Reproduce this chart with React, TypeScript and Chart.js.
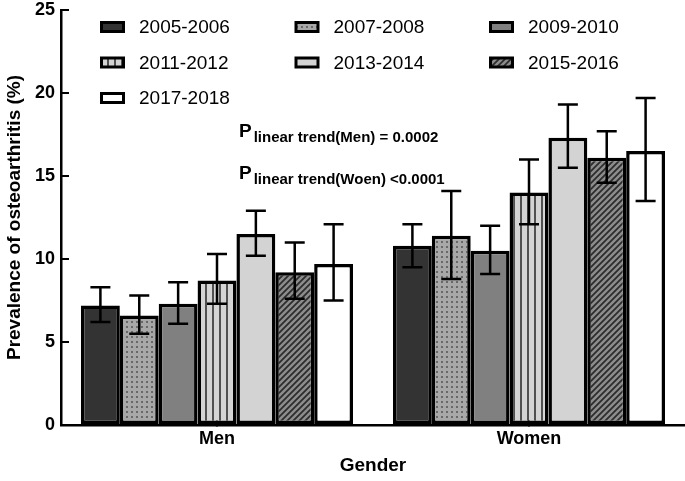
import React, { useEffect, useRef } from 'react';
import { Chart, registerables } from 'chart.js';

Chart.register(...registerables);

const FONT = "'Liberation Sans', Arial, Helvetica, sans-serif";

// ---- data ----
const categories = ['Men', 'Women'];
const periods = ['2005-2006', '2007-2008', '2009-2010', '2011-2012', '2013-2014', '2015-2016', '2017-2018'];

const prev2005 = [7.2, 10.8];
const prev2007 = [6.6, 11.4];
const prev2009 = [7.3, 10.5];
const prev2011 = [8.7, 14.0];
const prev2013 = [11.5, 17.3];
const prev2015 = [9.2, 16.1];
const prev2017 = [9.7, 16.5];

const low2005 = [6.2, 9.5];
const low2007 = [5.5, 8.8];
const low2009 = [6.1, 9.1];
const low2011 = [7.3, 12.1];
const low2013 = [10.2, 15.5];
const low2015 = [7.6, 14.6];
const low2017 = [7.5, 13.5];

const high2005 = [8.3, 12.1];
const high2007 = [7.8, 14.1];
const high2009 = [8.6, 12.0];
const high2011 = [10.3, 16.0];
const high2013 = [12.9, 19.3];
const high2015 = [11.0, 17.7];
const high2017 = [12.1, 19.7];

const yTicks = [0, 5, 10, 15, 20, 25];

const values = [prev2005, prev2007, prev2009, prev2011, prev2013, prev2015, prev2017];
const lows = [low2005, low2007, low2009, low2011, low2013, low2015, low2017];
const highs = [high2005, high2007, high2009, high2011, high2013, high2015, high2017];

const trendLines = [
  { sub: 'linear trend(Men) = 0.0002' },
  { sub: 'linear trend(Woen) <0.0001' },
];

// ---- fills ----
function tile(w: number, h: number, draw: (c: CanvasRenderingContext2D) => void): CanvasPattern | string {
  const cv = document.createElement('canvas');
  cv.width = w;
  cv.height = h;
  const c = cv.getContext('2d')!;
  draw(c);
  const p = c.createPattern(cv, 'repeat');
  return p || '#999';
}

function makeFills(): (CanvasPattern | string)[] {
  const dots = tile(5, 5, (c) => {
    c.fillStyle = '#a8a8a8';
    c.fillRect(0, 0, 5, 5);
    c.fillStyle = '#686868';
    c.fillRect(1, 1, 2, 2);
  });
  const vlines = tile(7, 7, (c) => {
    c.fillStyle = '#d4d4d4';
    c.fillRect(0, 0, 7, 7);
    c.fillStyle = '#505050';
    c.fillRect(2, 0, 2, 7);
  });
  const hatch = tile(6, 6, (c) => {
    c.fillStyle = '#8c8c8c';
    c.fillRect(0, 0, 6, 6);
    c.strokeStyle = '#2b2b2b';
    c.lineWidth = 1.7;
    c.beginPath();
    c.moveTo(0, 6); c.lineTo(6, 0);
    c.moveTo(-1, 1); c.lineTo(1, -1);
    c.moveTo(5, 7); c.lineTo(7, 5);
    c.stroke();
  });
  return ['#333333', dots, '#808080', vlines, '#d3d3d3', hatch, '#ffffff'];
}

const errorBarPlugin = {
  id: 'errorBars',
  afterDatasetsDraw(chart: any) {
    const ctx = chart.ctx;
    const y = chart.scales.y;
    ctx.save();
    ctx.strokeStyle = '#000';
    ctx.lineWidth = 2.5;
    chart.data.datasets.forEach((ds: any, di: number) => {
      const meta = chart.getDatasetMeta(di);
      meta.data.forEach((bar: any, i: number) => {
        const lo = y.getPixelForValue(lows[di][i]);
        const hi = y.getPixelForValue(highs[di][i]);
        const half = 10;
        ctx.beginPath();
        ctx.moveTo(bar.x, lo);
        ctx.lineTo(bar.x, hi);
        ctx.moveTo(bar.x - half, lo);
        ctx.lineTo(bar.x + half, lo);
        ctx.moveTo(bar.x - half, hi);
        ctx.lineTo(bar.x + half, hi);
        ctx.stroke();
      });
    });
    ctx.restore();
  },
};

const legendPlugin = {
  id: 'gridLegend',
  afterDraw(chart: any) {
    const ctx = chart.ctx;
    const area = chart.chartArea;
    ctx.save();
    chart.data.datasets.forEach((ds: any, i: number) => {
      const col = i % 3;
      const row = Math.floor(i / 3);
      const bx = area.left + 39 + col * 194.5;
      const cy = area.top + 17 + row * 35.5;
      const bw = 25, bh = 12, b = 3;
      ctx.fillStyle = '#000';
      ctx.fillRect(bx, cy - bh / 2, bw, bh);
      ctx.fillStyle = ds.backgroundColor;
      ctx.fillRect(bx + b, cy - bh / 2 + b, bw - 2 * b, bh - 2 * b);
      ctx.fillStyle = '#000';
      ctx.font = `19px ${FONT}`;
      ctx.textBaseline = 'middle';
      ctx.textAlign = 'left';
      ctx.fillText(ds.label, bx + 39, cy + 1);
    });
    ctx.restore();
  },
};

const trendPlugin = {
  id: 'trendText',
  afterDraw(chart: any) {
    const ctx = chart.ctx;
    const area = chart.chartArea;
    ctx.save();
    ctx.fillStyle = '#000';
    ctx.textAlign = 'left';
    ctx.textBaseline = 'alphabetic';
    trendLines.forEach((t, i) => {
      const x = area.left + 178;
      const base = area.top + 127 + i * 42;
      ctx.font = `bold 19px ${FONT}`;
      ctx.fillText('P', x, base);
      const pw = ctx.measureText('P').width;
      ctx.font = `bold 15px ${FONT}`;
      ctx.fillText(t.sub, x + pw + 2, base + 5);
    });
    ctx.restore();
  },
};

export default function App() {
  const ref = useRef<HTMLCanvasElement | null>(null);

  useEffect(() => {
    if (!ref.current) return;
    const fills = makeFills();
    const chart = new Chart(ref.current, {
      type: 'bar',
      data: {
        labels: categories,
        datasets: periods.map((p, i) => ({
          label: p,
          data: values[i],
          backgroundColor: fills[i] as any,
          borderColor: '#000',
          borderWidth: 3.5,
          borderSkipped: false,
          barPercentage: 1,
          categoryPercentage: 0.872,
        })),
      },
      options: {
        responsive: false,
        animation: false,
        devicePixelRatio: 1,
        layout: { padding: { top: 10, left: 0, right: 0, bottom: 0 } },
        plugins: {
          legend: { display: false },
          tooltip: { enabled: false },
        },
        scales: {
          x: {
            z: 1,
            grid: {
              offset: false,
              drawOnChartArea: false,
              drawTicks: true,
              tickLength: -8,
              color: '#000',
              lineWidth: 2,
            },
            border: { display: true, color: '#000', width: 2.5 },
            ticks: {
              color: '#000',
              padding: 11,
              font: { family: FONT, size: 18, weight: 'bold' },
            },
            title: {
              display: true,
              text: 'Gender',
              color: '#000',
              font: { family: FONT, size: 19, weight: 'bold' },
              padding: { top: 0, bottom: 4 },
            },
            afterFit: (s: any) => {
              s.height = 56;
            },
          },
          y: {
            min: 0,
            max: 25,
            afterBuildTicks: (s: any) => {
              s.ticks = yTicks.map((v) => ({ value: v }));
            },
            grid: {
              drawOnChartArea: false,
              drawTicks: true,
              tickLength: -8,
              color: '#000',
              lineWidth: 2,
            },
            border: { display: true, color: '#000', width: 2.5 },
            ticks: {
              color: '#000',
              padding: 14,
              font: { family: FONT, size: 18, weight: 'bold' },
            },
            title: {
              display: true,
              text: 'Prevalence of osteoarthritis (%)',
              color: '#000',
              font: { family: FONT, size: 19, weight: 'bold' },
              padding: { top: 3, bottom: 0 },
            },
            afterFit: (s: any) => {
              s.width = 61;
              s.paddingTop = 0;
              s.paddingBottom = 0;
            },
          },
        },
      },
      plugins: [errorBarPlugin, legendPlugin, trendPlugin],
    });
    return () => chart.destroy();
  }, []);

  return (
    <div style={{ position: 'absolute', left: 0, top: 0, width: 685, height: 481, background: '#fff' }}>
      <canvas ref={ref} width={685} height={481} style={{ display: 'block', width: 685, height: 481 }} />
    </div>
  );
}
